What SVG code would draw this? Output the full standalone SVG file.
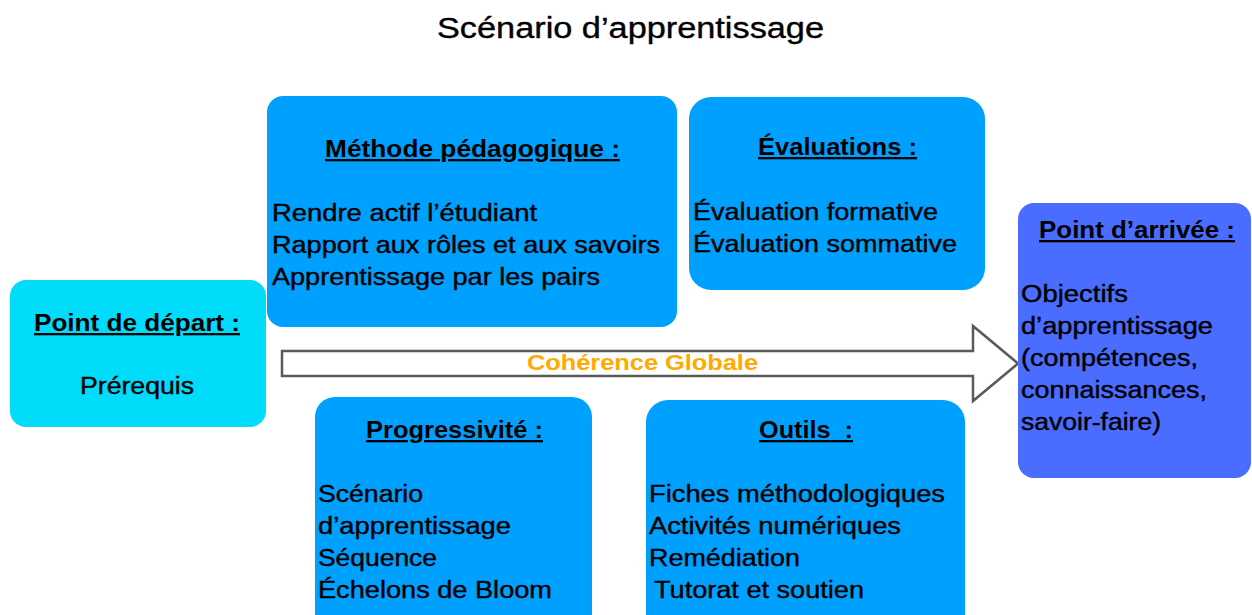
<svg xmlns="http://www.w3.org/2000/svg" width="1252" height="615" viewBox="0 0 1252 615">
<style>
  text { font-family: "Liberation Sans", Arial, sans-serif; fill: #000; }
  .title { font-size: 29px; stroke: #000; stroke-width: 0.35; }
  .head { font-size: 23px; font-weight: bold; text-decoration: underline; }
  .body { font-size: 23px; stroke: #000; stroke-width: 0.4; }
  .blue { fill: #00A0FF; }
  .cyan { fill: #00DCFA; }
  .arr { fill: #4A6CFF; }
  .conn { fill: #FFFFFF; stroke: #5A5A5A; stroke-width: 2.5; }
  .lbl { font-size: 22px; font-weight: bold; fill: #FFAA00; }
</style>
<rect width="1252" height="615" fill="#FFFFFF"/>
<text class="title" x="437" y="38" textLength="387" lengthAdjust="spacingAndGlyphs">Scénario d’apprentissage</text>

<g id="connectors">
  <polygon class="conn" points="282,351 973,351 973,326 1018,363.5 973,401 973,376 282,376"/>
</g>

<g id="depart">
  <rect class="cyan" x="10" y="280" width="256" height="147" rx="16"/>
  <text class="head" x="34" y="331" textLength="206" lengthAdjust="spacingAndGlyphs">Point de départ :</text>
  <text class="body" x="80" y="394" textLength="114" lengthAdjust="spacingAndGlyphs">Prérequis</text>
</g>

<g id="methode">
  <rect class="blue" x="267" y="96" width="410" height="231" rx="16"/>
  <text class="head" x="325" y="157" textLength="295" lengthAdjust="spacingAndGlyphs">Méthode pédagogique :</text>
  <text class="body" x="272" y="221" textLength="265" lengthAdjust="spacingAndGlyphs">Rendre actif l’étudiant</text>
  <text class="body" x="272" y="253" textLength="388" lengthAdjust="spacingAndGlyphs">Rapport aux rôles et aux savoirs</text>
  <text class="body" x="272" y="285" textLength="328" lengthAdjust="spacingAndGlyphs">Apprentissage par les pairs</text>
</g>

<g id="evaluations">
  <rect class="blue" x="689" y="97" width="296" height="193" rx="22"/>
  <text class="head" x="758" y="155" textLength="159" lengthAdjust="spacingAndGlyphs">Évaluations :</text>
  <text class="body" x="693" y="220" textLength="245" lengthAdjust="spacingAndGlyphs">Évaluation formative</text>
  <text class="body" x="693" y="252" textLength="264" lengthAdjust="spacingAndGlyphs">Évaluation sommative</text>
</g>

<g id="arrivee">
  <rect class="arr" x="1018" y="203" width="233" height="275" rx="16"/>
  <text class="head" x="1039" y="238" textLength="196" lengthAdjust="spacingAndGlyphs">Point d’arrivée :</text>
  <text class="body" x="1021" y="302" textLength="107" lengthAdjust="spacingAndGlyphs">Objectifs</text>
  <text class="body" x="1021" y="334" textLength="192" lengthAdjust="spacingAndGlyphs">d’apprentissage</text>
  <text class="body" x="1021" y="366" textLength="177" lengthAdjust="spacingAndGlyphs">(compétences,</text>
  <text class="body" x="1021" y="398" textLength="186" lengthAdjust="spacingAndGlyphs">connaissances,</text>
  <text class="body" x="1021" y="430" textLength="140" lengthAdjust="spacingAndGlyphs">savoir-faire)</text>
</g>

<g id="coherence">
  <text class="lbl" x="527" y="370" textLength="231" lengthAdjust="spacingAndGlyphs">Cohérence Globale</text>
</g>

<g id="progressivite">
  <rect class="blue" x="315" y="397" width="277" height="240" rx="20"/>
  <text class="head" x="366" y="438" textLength="177" lengthAdjust="spacingAndGlyphs">Progressivité :</text>
  <text class="body" x="318" y="502" textLength="105" lengthAdjust="spacingAndGlyphs">Scénario</text>
  <text class="body" x="318" y="534" textLength="193" lengthAdjust="spacingAndGlyphs">d’apprentissage</text>
  <text class="body" x="318" y="566" textLength="119" lengthAdjust="spacingAndGlyphs">Séquence</text>
  <text class="body" x="318" y="598" textLength="234" lengthAdjust="spacingAndGlyphs">Échelons de Bloom</text>
</g>

<g id="outils">
  <rect class="blue" x="646" y="400" width="319" height="240" rx="22"/>
  <text class="head" x="759" y="438" textLength="94" lengthAdjust="spacingAndGlyphs" xml:space="preserve">Outils  :</text>
  <text class="body" x="649" y="502" textLength="296" lengthAdjust="spacingAndGlyphs">Fiches méthodologiques</text>
  <text class="body" x="649" y="534" textLength="252" lengthAdjust="spacingAndGlyphs">Activités numériques</text>
  <text class="body" x="649" y="566" textLength="151" lengthAdjust="spacingAndGlyphs">Remédiation</text>
  <text class="body" x="654" y="598" textLength="210" lengthAdjust="spacingAndGlyphs">Tutorat et soutien</text>
</g>
</svg>
